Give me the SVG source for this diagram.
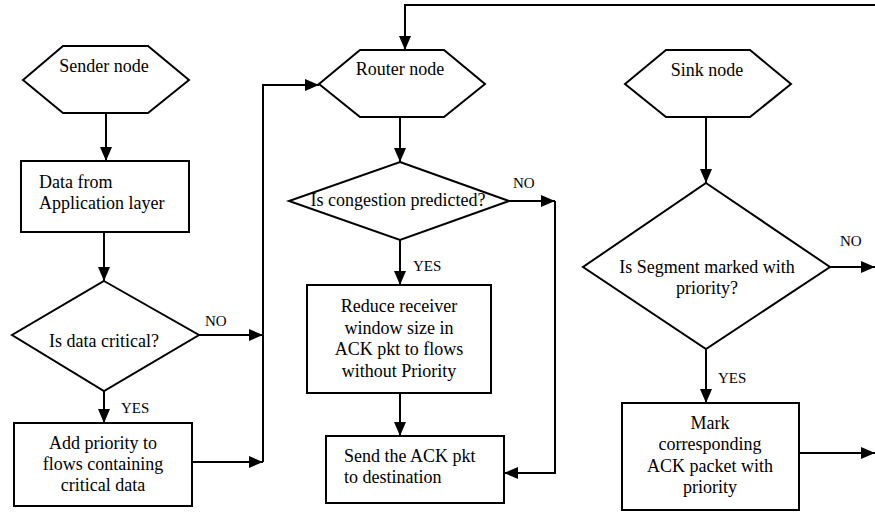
<svg xmlns="http://www.w3.org/2000/svg" width="875" height="513" viewBox="0 0 875 513">
<style>
.t{font-size:18px}
.l{font-size:15px}
.c{text-anchor:middle}
.s{fill:#fff;stroke:#000;stroke-width:2}
.e{fill:none;stroke:#000;stroke-width:2}
</style>
<defs>
<marker id="arr" markerWidth="14" markerHeight="12" refX="14" refY="6" orient="auto" markerUnits="userSpaceOnUse"><path d="M0,0 L14,6 L0,12 z" fill="#000"/></marker>
</defs>
<rect width="875" height="513" fill="#fff"/>
<g id="connectors">
<path class="e" d="M106,113 V161" marker-end="url(#arr)"/>
<path class="e" d="M104,232 V281" marker-end="url(#arr)"/>
<path class="e" d="M199,335 H263" marker-end="url(#arr)"/>
<path class="e" d="M104,391 V423" marker-end="url(#arr)"/>
<path class="e" d="M192,462 H263" marker-end="url(#arr)"/>
<path class="e" d="M263,462 V85 H319" marker-end="url(#arr)"/>
<path class="e" d="M875,5 H405 V50" marker-end="url(#arr)"/>
<path class="e" d="M400,117 V162" marker-end="url(#arr)"/>
<path class="e" d="M509,201 H555" marker-end="url(#arr)"/>
<path class="e" d="M555,201 V473 H504" marker-end="url(#arr)"/>
<path class="e" d="M400,240 V285" marker-end="url(#arr)"/>
<path class="e" d="M400,393 V436" marker-end="url(#arr)"/>
<path class="e" d="M706,117 V183" marker-end="url(#arr)"/>
<path class="e" d="M830,267 H875" marker-end="url(#arr)"/>
<path class="e" d="M706,349 V403" marker-end="url(#arr)"/>
<path class="e" d="M799,453 H875" marker-end="url(#arr)"/>
<text class="l" font-family="Liberation Serif" x="205" y="326">NO</text>
<text class="l" font-family="Liberation Serif" x="121" y="413">YES</text>
<text class="l" font-family="Liberation Serif" x="513" y="188">NO</text>
<text class="l" font-family="Liberation Serif" x="413" y="271">YES</text>
<text class="l" font-family="Liberation Serif" x="840" y="246">NO</text>
<text class="l" font-family="Liberation Serif" x="718" y="383">YES</text>
</g>
<g id="sender">
<polygon class="s" points="23,80 63,46 148,46 189,80 148,113 63,113"/>
<text class="t c" font-family="Liberation Serif" x="104" y="72">Sender node</text>
</g>
<g id="data">
<rect class="s" x="21" y="161" width="168" height="71"/>
<text class="t" font-family="Liberation Serif" x="39" y="188">Data from</text>
<text class="t" font-family="Liberation Serif" x="39" y="209">Application layer</text>
</g>
<g id="critical">
<polygon class="s" points="104,281 199,335 104,391 12,335"/>
<text class="t c" font-family="Liberation Serif" x="104" y="347">Is data critical?</text>
</g>
<g id="addpriority">
<rect class="s" x="14" y="423" width="178" height="83"/>
<text class="t c" font-family="Liberation Serif" x="103" y="449">Add priority to</text>
<text class="t c" font-family="Liberation Serif" x="103" y="470">flows containing</text>
<text class="t c" font-family="Liberation Serif" x="103" y="491">critical data</text>
</g>
<g id="router">
<polygon class="s" points="319,84 360,50 444,50 485,84 444,117 360,117"/>
<text class="t c" font-family="Liberation Serif" x="400" y="75">Router node</text>
</g>
<g id="congestion">
<polygon class="s" points="400,162 509,201 400,240 289,201"/>
<text class="t c" font-family="Liberation Serif" x="398" y="206">Is congestion predicted?</text>
</g>
<g id="reduce">
<rect class="s" x="307" y="285" width="184" height="108"/>
<text class="t c" font-family="Liberation Serif" x="399" y="312">Reduce receiver</text>
<text class="t c" font-family="Liberation Serif" x="399" y="334">window size in</text>
<text class="t c" font-family="Liberation Serif" x="399" y="355">ACK pkt to flows</text>
<text class="t c" font-family="Liberation Serif" x="399" y="377">without Priority</text>
</g>
<g id="send">
<rect class="s" x="326" y="436" width="178" height="67"/>
<text class="t" font-family="Liberation Serif" x="344" y="462">Send the ACK pkt</text>
<text class="t" font-family="Liberation Serif" x="344" y="483">to destination</text>
</g>
<g id="sink">
<polygon class="s" points="625,84 666,50 750,50 791,84 750,117 666,117"/>
<text class="t c" font-family="Liberation Serif" x="707" y="76">Sink node</text>
</g>
<g id="segment">
<polygon class="s" points="706,183 830,267 706,349 583,267"/>
<text class="t c" font-family="Liberation Serif" x="707" y="273">Is Segment marked with</text>
<text class="t c" font-family="Liberation Serif" x="707" y="294">priority?</text>
</g>
<g id="mark">
<rect class="s" x="622" y="403" width="177" height="107"/>
<text class="t c" font-family="Liberation Serif" x="710" y="429">Mark</text>
<text class="t c" font-family="Liberation Serif" x="710" y="450">corresponding</text>
<text class="t c" font-family="Liberation Serif" x="710" y="472">ACK packet with</text>
<text class="t c" font-family="Liberation Serif" x="710" y="493">priority</text>
</g>
</svg>
